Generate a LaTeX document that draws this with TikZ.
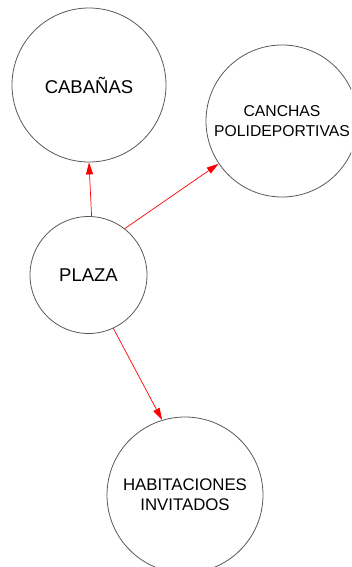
\documentclass[tikz,border=0pt]{standalone}
\usepackage{fontspec}
\setmainfont{Liberation Sans}
\usetikzlibrary{arrows.meta}
\begin{document}
\begin{tikzpicture}[x=1pt,y=-1pt,
  place/.style={circle,draw=black!65,line width=0.8pt,inner sep=0pt,align=center,
    font=\fontsize{18.5}{20}\selectfont},
  link/.style={draw=red,line width=0.7pt,-{Triangle[length=12pt,width=7pt]}}]
\clip (0,0) rectangle (351,567);
\useasboundingbox (0,0) rectangle (351,567);
\node[place,minimum size=154pt] (cab) at (89,85) {CABAÑAS};
\node[place,minimum size=152pt,font=\fontsize{15.7}{20.5}\selectfont] (can) at (282,121) {CANCHAS\\POLIDEPORTIVAS};
\node[place,minimum size=117pt] (pla) at (88.5,275) {PLAZA};
\node[place,minimum size=156pt,font=\fontsize{16.8}{20}\selectfont] (hab) at (185,495) {HABITACIONES\\INVITADOS};
\draw[link] (pla.87) -- (cab.270.8);
\draw[link] (pla.52) -- (can.214);
\draw[link] (pla.-65) -- (hab.107);
\end{tikzpicture}
\end{document}
